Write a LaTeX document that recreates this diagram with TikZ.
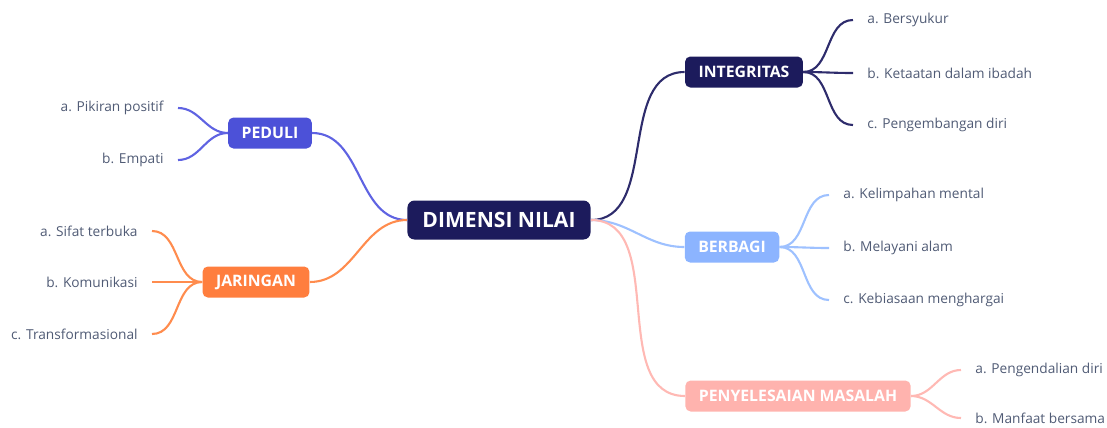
\documentclass[tikz,border=0pt]{standalone}
\usepackage{fontspec}
\setmainfont{Open Sans}
\usepackage{tikz}
\usetikzlibrary{positioning}
\definecolor{navy}{HTML}{1C1B5C}
\definecolor{navyline}{HTML}{2E2C6C}
\definecolor{violet}{HTML}{4C51D8}
\definecolor{violetline}{HTML}{5F63E2}
\definecolor{oranje}{HTML}{FF7E3E}
\definecolor{oranjeline}{HTML}{FF8C4E}
\definecolor{lichtblauw}{HTML}{8CB4FF}
\definecolor{lichtblauwline}{HTML}{9EC1FF}
\definecolor{zalm}{HTML}{FFB3AE}
\definecolor{zalmline}{HTML}{FFB9B4}
\definecolor{bladtekst}{HTML}{505B75}
\tikzset{
  % node styles (middelpunt, hoofdtakken, bladeren)
  % gebruik: \node[tak=kleur] (naam) at (x,y) {TEKST};
  kern/.style={rectangle,rounded corners=4pt,fill=navy,text=white,
    font=\bfseries\fontsize{12}{14}\selectfont,inner xsep=0.3cm,minimum height=0.78cm},
  tak/.style={rectangle,rounded corners=3pt,fill=#1,text=white,
    font=\bfseries\fontsize{9}{11}\selectfont,inner xsep=0.27cm,minimum height=0.62cm},
  blad/.style={text=bladtekst,font=\fontsize{7.8}{10}\selectfont,inner xsep=8pt},
  % verbindingen: \draw[lijn=kleur] (a.east) to[out=0,in=180] (b.west);
  lijn/.style={draw=#1,line width=1.2pt},
}

\begin{document}
\begin{tikzpicture}[x=0.02cm,y=-0.02cm]
  \useasboundingbox (0,0) rectangle (1107,427);
  \node[kern] (kern) at (499,220) {DIMENSI NILAI};
  % rechts
  \node[tak=navy] (integ) at (744,72) {INTEGRITAS};
  \node[tak=lichtblauw] (berbagi) at (732,247) {BERBAGI};
  \node[tak=zalm] (penyel) at (798,396) {PENYELESAIAN MASALAH};
  % links
  \node[tak=violet] (peduli) at (270,133) {PEDULI};
  \node[tak=oranje] (jaringan) at (256,282) {JARINGAN};
  % bladeren
  \node[blad,anchor=west] (i1) at (853,20) {a. Bersyukur};
  \node[blad,anchor=west] (i2) at (853,73) {b. Ketaatan dalam ibadah};
  \node[blad,anchor=west] (i3) at (853,125) {c. Pengembangan diri};
  \node[blad,anchor=west] (b1) at (829,195) {a. Kelimpahan mental};
  \node[blad,anchor=west] (b2) at (829,248) {b. Melayani alam};
  \node[blad,anchor=west] (b3) at (829,300) {c. Kebiasaan menghargai};
  \node[blad,anchor=west] (p1) at (961,370) {a. Pengendalian diri};
  \node[blad,anchor=west] (p2) at (961,418) {b. Manfaat bersama};
  \node[blad,anchor=east] (d1) at (178,108) {a. Pikiran positif};
  \node[blad,anchor=east] (d2) at (178,160) {b. Empati};
  \node[blad,anchor=east] (j1) at (152,231) {a. Sifat terbuka};
  \node[blad,anchor=east] (j2) at (152,282) {b. Komunikasi};
  \node[blad,anchor=east] (j3) at (152,334) {c. Transformasional};
  % takken vanuit het midden
  \draw[lijn=navyline] (kern.east) to[out=0,in=180] (integ.west);
  \draw[lijn=lichtblauwline] (kern.east) to[out=0,in=180] (berbagi.west);
  \draw[lijn=zalmline] (kern.east) to[out=0,in=180] (penyel.west);
  \draw[lijn=violetline] (kern.west) to[out=180,in=0] (peduli.east);
  \draw[lijn=oranjeline] (kern.west) to[out=180,in=0] (jaringan.east);
  % bladeren
  \foreach \b in {i1,i2,i3}
    \draw[lijn=navyline] (integ.east) to[out=0,in=180] (\b.west);
  \foreach \b in {b1,b2,b3}
    \draw[lijn=lichtblauwline] (berbagi.east) to[out=0,in=180] (\b.west);
  \foreach \b in {p1,p2}
    \draw[lijn=zalmline] (penyel.east) to[out=0,in=180] (\b.west);
  \foreach \b in {d1,d2}
    \draw[lijn=violetline] (peduli.west) to[out=180,in=0] (\b.east);
  \foreach \b in {j1,j2,j3}
    \draw[lijn=oranjeline] (jaringan.west) to[out=180,in=0] (\b.east);
\end{tikzpicture}
\end{document}
